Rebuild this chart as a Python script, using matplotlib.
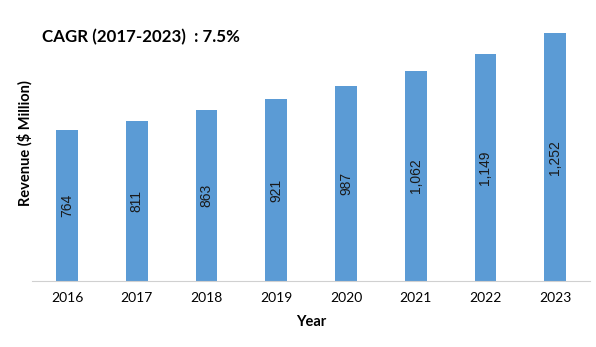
import numpy as np
import matplotlib.pyplot as plt

years = ["2016", "2017", "2018", "2019", "2020", "2021", "2022", "2023"]
revenue = [764, 811, 863, 921, 987, 1062, 1149, 1252]
labels = ["764", "811", "863", "921", "987", "1,062", "1,149", "1,252"]

plt.rcParams["font.family"] = ["Lato", "DejaVu Sans"]

fig = plt.figure(figsize=(5.96, 3.47), dpi=100)
ax = fig.add_axes([0.054, 0.19, 0.936, 0.798])

x = np.arange(len(years))
bars = ax.bar(x, revenue, width=0.31, color="#5B9BD5")

# 柱内数值标签
for b, lab in zip(bars, labels):
    ax.text(b.get_x() + b.get_width() / 2, b.get_height() / 2, lab,
            rotation=90, ha="center", va="center", fontsize=10,
            family="Liberation Sans", color="#1a1a1a")

ax.set_xlim(-0.5, len(years) - 0.5)
ax.set_ylim(0, 1400)
ax.set_xticks(x)
ax.set_xticklabels(years, fontsize=10)
ax.set_yticks([])
ax.tick_params(axis="x", length=0, pad=8)
for s in ["top", "right", "left"]:
    ax.spines[s].set_visible(False)
ax.spines["bottom"].set_color("#d0d0d0")

ax.set_xlabel("Year", fontsize=10.5, fontweight="bold", labelpad=8)
ax.set_ylabel("Revenue ($ Million)", fontsize=10.5, fontweight="bold", labelpad=0)

fig.text(0.07, 0.878, "CAGR (2017-2023)  : 7.5%", fontsize=12.2, fontweight="bold")

fig.savefig("out.png", dpi=100)
